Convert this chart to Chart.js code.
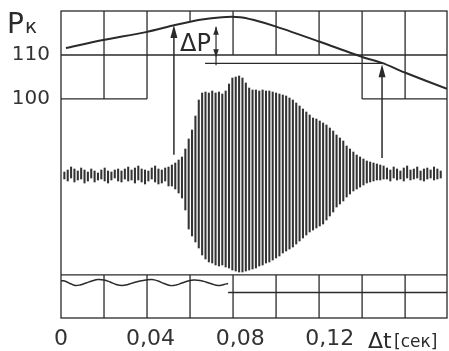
<!DOCTYPE html>
<html>
<head>
<meta charset="utf-8">
<script src="https://cdn.jsdelivr.net/npm/chart.js@4.4.0/dist/chart.umd.min.js"></script>
<style>
  html, body { margin: 0; padding: 0; background: #fff; }
</style>
</head>
<body>
<canvas id="c" width="449" height="351"></canvas>
<script>
// time in seconds, Pк in mm Hg, signal / timing mark in arbitrary units
const T_END = 0.1723;
const P_MIN = 50.2, P_MAX = 120;
const xTicks = [0, 0.04, 0.08, 0.12];
const xTickLabels = ['0', '0,04', '0,08', '0,12'];
const yTicks = [100, 110];

// cuff pressure curve
const presT = [0.0022, 0.0188, 0.0379, 0.0509, 0.0621, 0.0719, 0.0799, 0.0857, 0.0964, 0.1156, 0.1348, 0.1433, 0.1540, 0.1723];
const presP = [111.6, 113.4, 115.2, 116.8, 118.0, 118.6, 118.6, 118.0, 116.4, 113.0, 109.5, 108.2, 105.9, 102.3];

// oscillation strokes: one every sigDt seconds, upper and lower ends
const sigT0 = 0.0015, sigDt = 0.0015;
const sigHi = [3,5,8,6,4,7,5,3,6,4,2,5,7,4,3,5,6,4,6,8,5,7,9,6,5,4,7,9,6,5,7,8,
  10,12,15,18,26,36,45,59,75,82,83,82,84,82,83,81,84,91,97,98,99,97,92,87,85,85,84,85,84,84,83,82,
  81,80,79,77,75,72,69,66,63,60,57,56,54,52,50,47,44,40,37,34,29,26,23,20,18,16,14,13,12,11,10,9,
  7,5,8,6,4,7,9,5,6,8,4,6,7,5,8,6,4];
const sigLo = [-4,-6,-3,-7,-5,-4,-8,-6,-3,-7,-5,-4,-6,-8,-5,-3,-6,-7,-4,-6,-5,-8,-5,-7,-9,-6,-4,-7,-9,-8,-6,-11,
  -11,-14,-18,-23,-35,-54,-61,-67,-73,-80,-84,-87,-88,-90,-91,-90,-92,-93,-95,-96,-97,-97,-96,-95,-94,-93,-91,-90,-88,-87,-85,-83,
  -81,-78,-76,-74,-72,-69,-66,-63,-60,-57,-55,-53,-51,-49,-45,-41,-37,-32,-29,-26,-22,-19,-16,-14,-12,-10,-8,-7,-6,-5,-5,-4,
  -4,-6,-3,-5,-4,-6,-3,-5,-4,-3,-5,-6,-4,-3,-5,-4,-3];

// timing mark in the bottom strip
const waveT = [0, 0.0022, 0.0040, 0.0063, 0.0085, 0.0112, 0.0138, 0.0165, 0.0192, 0.0219, 0.0246, 0.0272, 0.0299, 0.0326, 0.0353,
  0.0379, 0.0406, 0.0433, 0.0460, 0.0487, 0.0513, 0.0540, 0.0567, 0.0594, 0.0621, 0.0647, 0.0674, 0.0701, 0.0728, 0.0746];
const waveV = [-105.5, -106.5, -108.5, -110.5, -110, -108, -106, -104.5, -105, -107, -109.5, -110.5, -109.5, -107.5, -106,
  -105, -104.5, -106, -108.5, -110.5, -110, -108, -106, -105, -105.5, -107, -109, -110.5, -109.5, -108.5];

// grid of the recording
const gridT = [0.0192, 0.0384, 0.0576, 0.0768, 0.0960, 0.1152, 0.1344, 0.1536];
const gridTopTo = [100, 100, 117.5, 110, 110, 110, 100, 100];
const stripTop = 60;
const hLines = [[110, 0, T_END], [100, 0, 0.0384], [100, 0.1344, T_END], [108.1, 0.0643, 0.1433], [60, 0, T_END], [56, 0.0746, T_END]];

// arrows: time, from, to (Pк)
const arrows = [[0.0504, 87.3, 116.8], [0.1433, 86.6, 107.9]];
const dpArrow = [0.0692, 108.1, 116.4];

const INK = '#2a2a2a';

const gridPlugin = {
  id: 'grid',
  beforeDatasetsDraw(chart) {
    const {ctx, chartArea: a, scales: {x, y}} = chart;
    const seg = (t1, p1, t2, p2) => {
      ctx.beginPath();
      ctx.moveTo(x.getPixelForValue(t1), y.getPixelForValue(p1));
      ctx.lineTo(x.getPixelForValue(t2), y.getPixelForValue(p2));
      ctx.stroke();
    };
    ctx.save();
    ctx.strokeStyle = INK;
    ctx.lineWidth = 1.3;
    ctx.strokeRect(a.left, a.top, a.right - a.left, a.bottom - a.top);
    gridT.forEach((t, i) => {
      seg(t, P_MAX, t, gridTopTo[i]);
      seg(t, stripTop, t, P_MIN);
    });
    hLines.forEach(h => seg(h[1], h[0], h[2], h[0]));
    ctx.restore();
  }
};

function head(ctx, px, py, dir, len, w) {
  ctx.beginPath();
  ctx.moveTo(px, py);
  ctx.lineTo(px - w, py + dir * len);
  ctx.lineTo(px + w, py + dir * len);
  ctx.closePath();
  ctx.fill();
}

const notePlugin = {
  id: 'notes',
  afterDatasetsDraw(chart) {
    const {ctx, chartArea: a, scales: {x, y}} = chart;
    ctx.save();
    ctx.strokeStyle = INK;
    ctx.fillStyle = INK;
    ctx.lineWidth = 1.5;
    arrows.forEach(ar => {
      const px = x.getPixelForValue(ar[0]);
      const y1 = y.getPixelForValue(ar[1]), y2 = y.getPixelForValue(ar[2]);
      ctx.beginPath(); ctx.moveTo(px, y1); ctx.lineTo(px, y2 + 4); ctx.stroke();
      head(ctx, px, y2, 1, 13, 3.5);
    });
    const dx = x.getPixelForValue(dpArrow[0]);
    const d1 = y.getPixelForValue(dpArrow[1]), d2 = y.getPixelForValue(dpArrow[2]);
    ctx.lineWidth = 1.2;
    ctx.beginPath(); ctx.moveTo(dx, d1 + 2); ctx.lineTo(dx, d2); ctx.stroke();
    head(ctx, dx, d2, 1, 8, 2.8);
    head(ctx, dx, d1 - 6, -1, 8, 2.8);

    ctx.textBaseline = 'alphabetic';
    ctx.textAlign = 'left';
    ctx.font = '24px "DejaVu Sans"';
    ctx.fillText('ΔP', x.getPixelForValue(0.0531), y.getPixelForValue(110.8));
    ctx.font = '28px "DejaVu Sans"';
    ctx.fillText('P', a.left - 54, y.getPixelForValue(115));
    ctx.font = '20px "DejaVu Sans"';
    ctx.fillText('к', a.left - 36, y.getPixelForValue(115));
    ctx.font = '22px "DejaVu Sans"';
    ctx.fillText('Δt', a.left + 307, a.bottom + 30);
    ctx.font = '17px "DejaVu Sans"';
    ctx.fillText('[сек]', a.left + 333, a.bottom + 29);
    ctx.restore();
  }
};

new Chart(document.getElementById('c'), {
  type: 'line',
  data: {
    datasets: [
      {
        type: 'bar',
        data: sigHi.map((h, i) => ({x: sigT0 + i * sigDt, y: [sigLo[i], h]})),
        yAxisID: 'ySig',
        backgroundColor: '#333',
        borderWidth: 0,
        barThickness: 1.4,
        grouped: false
      },
      {
        data: presT.map((t, i) => ({x: t, y: presP[i]})),
        yAxisID: 'y',
        borderColor: INK,
        borderWidth: 2,
        pointRadius: 0,
        tension: 0.25
      },
      {
        data: waveT.map((t, i) => ({x: t, y: waveV[i]})),
        yAxisID: 'ySig',
        borderColor: INK,
        borderWidth: 1.4,
        pointRadius: 0,
        tension: 0.4
      }
    ]
  },
  options: {
    responsive: false,
    animation: false,
    layout: {padding: {top: 11, right: 2, left: 0, bottom: 0}},
    plugins: {legend: {display: false}, tooltip: {enabled: false}},
    scales: {
      x: {
        type: 'linear', min: 0, max: T_END, offset: false,
        grid: {display: false, drawTicks: false, offset: false}, border: {display: false},
        afterBuildTicks: s => { s.ticks = xTicks.map(v => ({value: v})); },
        afterFit: s => { s.height = 33; s.paddingLeft = 0; s.paddingRight = 0; },
        ticks: {
          autoSkip: false, maxRotation: 0, padding: 8, color: '#333',
          font: {family: 'DejaVu Sans', size: 22},
          callback: (v, i) => xTickLabels[i]
        }
      },
      y: {
        type: 'linear', min: P_MIN, max: P_MAX,
        grid: {display: false, drawTicks: false}, border: {display: false},
        afterBuildTicks: s => { s.ticks = yTicks.map(v => ({value: v})); },
        afterFit: s => { s.width = 61; s.paddingTop = 0; s.paddingBottom = 0; },
        ticks: {padding: 11, color: '#333', font: {family: 'DejaVu Sans', size: 20}}
      },
      ySig: {type: 'linear', display: false, min: -143, max: 164}
    }
  },
  plugins: [gridPlugin, notePlugin]
});
</script>
</body>
</html>
